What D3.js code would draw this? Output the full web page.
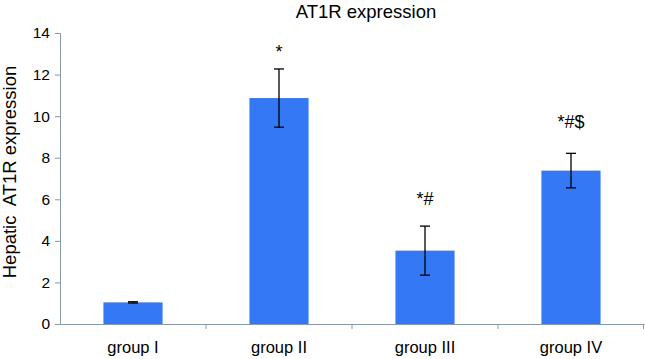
<!DOCTYPE html>
<html><head><meta charset="utf-8">
<script src="https://cdnjs.cloudflare.com/ajax/libs/d3/7.8.5/d3.min.js"></script>
<style>body{margin:0;background:#fff}svg{display:block}text{font-family:"Liberation Sans",Arial,sans-serif}</style>
</head><body><svg id="c" width="645" height="359"></svg>
<script>
const categories = ["group I","group II","group III","group IV"];
const values = [1.04, 10.87, 3.53, 7.38];
const errors = [0.03, 1.4, 1.18, 0.83];
const marks = ["", "*", "*#", "*#$"];
const yTicks = [0,2,4,6,8,10,12,14];

const svg = d3.select("#c");
const m = {l:60, r:1};
const W = 645;
const x = d3.scaleBand().domain(categories).range([m.l, W - m.r]).paddingInner(0).paddingOuter(0);
const y = d3.scaleLinear().domain([0,14]).range([324, 33]);
const axisColor = "#8a99a6";
const font = "Liberation Sans, Arial, sans-serif";

// bars
const bw = x.bandwidth()*0.405;
svg.selectAll("rect.bar").data(categories).enter().append("rect")
  .attr("x", d => x(d) + x.bandwidth()/2 - bw/2)
  .attr("y", (d,i) => y(values[i]))
  .attr("width", bw)
  .attr("height", (d,i) => y(0) - y(values[i]))
  .attr("fill", "#3478f6");

// y axis
const ya = svg.append("g").attr("transform", `translate(${m.l},0)`)
  .call(d3.axisLeft(y).tickValues(yTicks).tickSize(5).tickPadding(5));
ya.selectAll("path,line").attr("stroke", axisColor);
ya.selectAll("text").attr("font-size", 15.5).attr("fill","#000").attr("font-family",font);

// x axis
const xa = svg.append("g").attr("transform", `translate(0,${y(0)})`)
  .call(d3.axisBottom(x).tickSize(0).tickPadding(17));
xa.select("path").attr("stroke", axisColor);
xa.selectAll("text").attr("font-size", 16.5).attr("fill","#000").attr("font-family",font);
// boundary ticks
const bounds = categories.map(c => x(c)).concat([x(categories[categories.length-1]) + x.bandwidth()]);
svg.selectAll("line.bt").data(bounds.slice(1)).enter().append("line")
  .attr("x1", d => d - (d >= W - m.r ? 0.5 : 0)).attr("x2", d => d - (d >= W - m.r ? 0.5 : 0))
  .attr("y1", y(0)).attr("y2", y(0)+5).attr("stroke", axisColor);

// error bars
const eg = svg.append("g").attr("stroke","#000").attr("stroke-width",1.3);
categories.forEach((c,i) => {
  const cx = x(c) + x.bandwidth()/2;
  const top = y(values[i] + errors[i]), bot = y(values[i] - errors[i]);
  eg.append("line").attr("x1",cx).attr("x2",cx).attr("y1",top).attr("y2",bot);
  eg.append("line").attr("x1",cx-5).attr("x2",cx+5).attr("y1",top).attr("y2",top);
  eg.append("line").attr("x1",cx-5).attr("x2",cx+5).attr("y1",bot).attr("y2",bot);
});

// significance marks
const markGap = [0, 11, 21, 25];
svg.selectAll("text.mk").data(categories).enter().append("text")
  .attr("x", d => x(d) + x.bandwidth()/2)
  .attr("y", (d,i) => y(values[i] + errors[i]) - markGap[i])
  .attr("text-anchor","middle").attr("font-size",18)
  .text((d,i) => marks[i]);

// title
svg.append("text").attr("x", 366).attr("y", 18).attr("text-anchor","middle")
  .attr("font-size",18.5).text("AT1R expression");
// y label
svg.append("text").attr("transform","translate(16,172) rotate(-90)").attr("text-anchor","middle")
  .attr("font-size",18.5).attr("xml:space","preserve").text("Hepatic  AT1R expression");
</script></body></html>
